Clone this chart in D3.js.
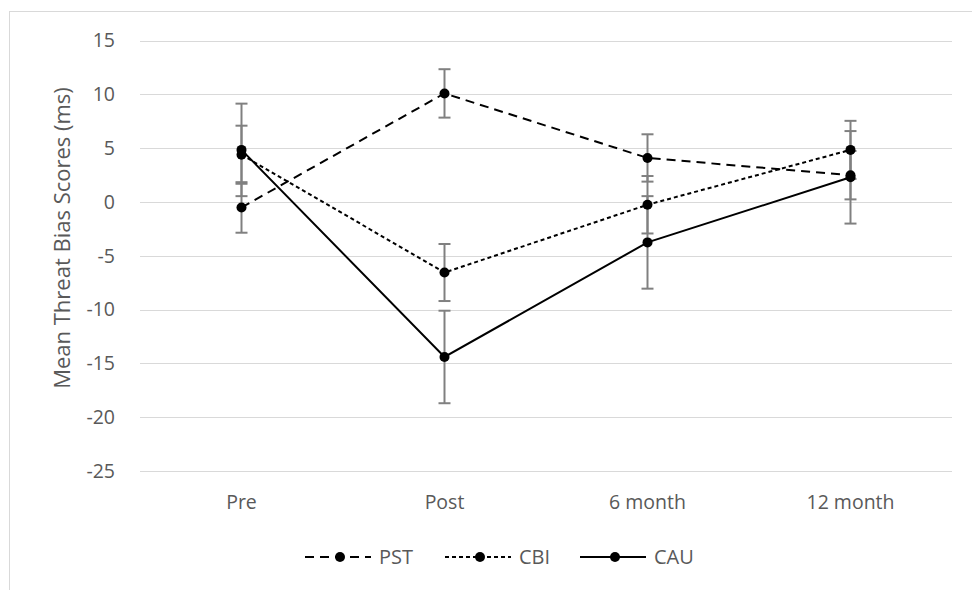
<!DOCTYPE html>
<html>
<head>
<meta charset="utf-8">
<script src="https://d3js.org/d3.v7.min.js"></script>
<style>
    body { margin: 0; background: #fff; }
    text { font-family: "Open Sans", Lato, sans-serif; fill: #595959; }
</style>
</head>
<body>
<div id="chart"></div>
<script>
const categories = ["Pre", "Post", "6 month", "12 month"];
const yTicks = [15, 10, 5, 0, -5, -10, -15, -20, -25];

const pst = [-0.5, 10.1, 4.1, 2.5];
const pstErr = [2.35, 2.25, 2.2, 2.25];
const cbi = [4.4, -6.55, -0.25, 4.85];
const cbiErr = [2.7, 2.65, 2.67, 2.7];
const cau = [4.85, -14.4, -3.75, 2.3];
const cauErr = [4.3, 4.3, 4.3, 4.3];

const series = [
    { name: "PST", values: pst, err: pstErr, dash: "9,6" },
    { name: "CBI", values: cbi, err: cbiErr, dash: "4,3" },
    { name: "CAU", values: cau, err: cauErr, dash: null }
];

const width = 972, height = 590;

const svg = d3.select("#chart").append("svg")
    .attr("width", width)
    .attr("height", height);

// chart border
svg.append("rect")
    .attr("x", 9.5).attr("y", 11.5)
    .attr("width", 980).attr("height", 600)
    .attr("fill", "none")
    .attr("stroke", "#d9d9d9")
    .attr("stroke-width", 1);

const x = d3.scaleBand()
    .domain(categories)
    .range([140, 952]);

const y = d3.scaleLinear()
    .domain([-25, 15])
    .range([471, 40.7]);

const cx = c => x(c) + x.bandwidth() / 2;

// gridlines
svg.append("g")
    .selectAll("line")
    .data(yTicks)
    .enter().append("line")
    .attr("x1", 140).attr("x2", 952)
    .attr("y1", d => Math.round(y(d)) + 0.5)
    .attr("y2", d => Math.round(y(d)) + 0.5)
    .attr("stroke", "#d9d9d9")
    .attr("stroke-width", 1);

// y axis
const yAxis = svg.append("g")
    .attr("transform", "translate(140,0)")
    .call(d3.axisLeft(y).tickValues(yTicks).tickFormat(d => String(d)).tickSize(0).tickPadding(25));
yAxis.select(".domain").remove();
yAxis.selectAll("text").style("font-size", "19.5px").attr("fill", "#595959");

// x axis
const xAxis = svg.append("g")
    .attr("transform", "translate(0,471)")
    .call(d3.axisBottom(x).tickSize(0).tickPadding(24));
xAxis.select(".domain").remove();
xAxis.selectAll("text").style("font-size", "19.5px").attr("fill", "#595959");

// y axis title
svg.append("text")
    .attr("transform", "translate(70,238) rotate(-90)")
    .attr("text-anchor", "middle")
    .style("font-size", "22px")
    .text("Mean Threat Bias Scores (ms)");

// error bars
series.forEach(s => {
    const g = svg.append("g").attr("stroke", "#808080").attr("stroke-width", 2);
    categories.forEach((c, i) => {
        const v = s.values[i], e = s.err[i];
        g.append("line")
            .attr("x1", cx(c)).attr("x2", cx(c))
            .attr("y1", y(v + e)).attr("y2", y(v - e));
        [v + e, v - e].forEach(t => {
            g.append("line")
                .attr("x1", cx(c) - 6).attr("x2", cx(c) + 6)
                .attr("y1", y(t)).attr("y2", y(t));
        });
    });
});

// lines
const line = d3.line()
    .x((d, i) => cx(categories[i]))
    .y(d => y(d));

series.forEach(s => {
    svg.append("path")
        .datum(s.values)
        .attr("fill", "none")
        .attr("stroke", "#000")
        .attr("stroke-width", 2)
        .attr("stroke-dasharray", s.dash)
        .attr("d", line);
});

// markers
series.forEach(s => {
    svg.append("g")
        .selectAll("circle")
        .data(s.values)
        .enter().append("circle")
        .attr("cx", (d, i) => cx(categories[i]))
        .attr("cy", d => y(d))
        .attr("r", 5)
        .attr("fill", "#000");
});

// legend
const legendX = [305, 445, 580];
const legend = svg.append("g")
    .selectAll("g")
    .data(series)
    .enter().append("g")
    .attr("transform", (d, i) => `translate(${legendX[i]},557)`);

legend.append("line")
    .attr("x1", 0).attr("x2", 66)
    .attr("y1", 0).attr("y2", 0)
    .attr("stroke", "#000")
    .attr("stroke-width", 2)
    .attr("stroke-dasharray", d => d.dash);

legend.append("circle")
    .attr("cx", 35).attr("cy", 0).attr("r", 5)
    .attr("fill", "#000");

legend.append("text")
    .attr("x", 74).attr("y", 7)
    .style("font-size", "20px")
    .text(d => d.name);
</script>
</body>
</html>
